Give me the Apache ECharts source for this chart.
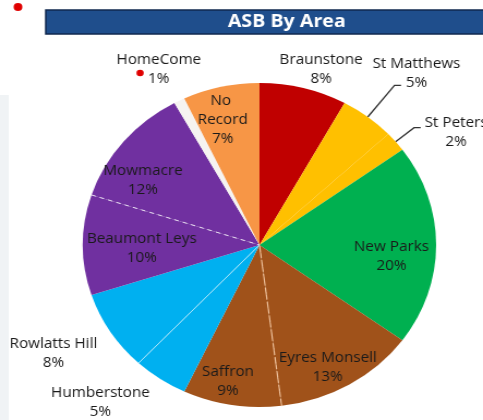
<!DOCTYPE html>
<html><head><meta charset="utf-8">
<script src="https://cdn.jsdelivr.net/npm/echarts@6/dist/echarts.min.js"></script>
<style>
html,body{margin:0;padding:0;background:#fff;overflow:hidden;width:483px;height:420px}
#chart{width:443px;height:420px;transform:scaleX(1.0903);transform-origin:0 0}
</style></head><body><div id="chart"></div>
<script>
// ---- data ----
const titleText = 'ASB By Area';
const categories = ['Braunstone','St Matthews','St Peters','New Parks','Eyres Monsell','Saffron','Humberstone','Rowlatts Hill','Beaumont Leys','Mowmacre','HomeCome','No Record'];
const values = [8,5,2,20,13,9,5,8,10,12,1,7];
const outsideNames = ['Braunstone','St Matthews','St Peters','Humberstone','Rowlatts Hill','HomeCome'];
const leaderNames = ['St Matthews','St Peters'];

// ---- styles ----
const colors = {
  'Braunstone':'#c00000','St Matthews':'#ffc000','St Peters':'#ffc000','New Parks':'#00b050',
  'Eyres Monsell':'#a0521a','Saffron':'#a0521a','Humberstone':'#00b0f0','Rowlatts Hill':'#00b0f0',
  'Beaumont Leys':'#7030a0','Mowmacre':'#7030a0','HomeCome':'#f6f3f1','No Record':'#f79646'
};
// faint separator lines drawn after these slices (between same-coloured neighbours)
const separatorStyle = {
  'Eyres Monsell':{borderColor:'rgba(255,215,180,0.75)',borderWidth:1.2,borderType:[7,7]},
  'Humberstone':{borderColor:'rgba(255,255,255,0.35)',borderWidth:1},
  'Beaumont Leys':{borderColor:'rgba(255,255,255,0.5)',borderWidth:1,borderType:[4,4]}
};
const innerNudge = {'No Record':[-6,-1],'Mowmacre':[-9,16],'Beaumont Leys':[19,4],'New Parks':[-6,12],'Eyres Monsell':[-2,13],'Saffron':[-9,11]};
const outerNudge = {'HomeCome':[-2,2],'Braunstone':[7,17],'St Matthews':[22,-14],'St Peters':[27,14],'Rowlatts Hill':[-21,2],'Humberstone':[-34,-7]};
const leaderLen = {'St Matthews':[40,6],'St Peters':[22,6]};
const wrapWidth = {'No Record':60};

const FONT = 'Open Sans';
const CENTER = [238,245];
const R = 162;
const labelText = {color:'#1a1a1a',fontFamily:FONT,fontSize:14,lineHeight:19,formatter:'{b}\n{c}%'};

const chart = echarts.init(document.getElementById('chart'), null, {renderer:'canvas'});

const baseData = categories.map((name,i)=>({
  name, value: values[i], itemStyle:{color: colors[name]}
}));

const innerData = categories.map((name,i)=>{
  const d = {name, value: values[i]};
  if (leaderNames.includes(name)) {
    d.label = {show:true, position:'outside', formatter:' '};
    d.labelLine = {show:true, length: leaderLen[name][0], length2: leaderLen[name][1], smooth:false,
      lineStyle:{color:'#333', width:1.3}};
  } else if (outsideNames.includes(name)) {
    d.label = {show:false};
  } else {
    d.label = {show:true, position:'inside'};
    if (wrapWidth[name]) { d.label.width = wrapWidth[name]; d.label.overflow = 'break'; }
  }
  return d;
});

const outerData = categories.map((name,i)=>({
  name, value: values[i],
  label: {show: outsideNames.includes(name), position:'inside'}
}));

// separator series: transparent fillers + hair-thin slices at the chosen boundaries
const total = values.reduce((a,b)=>a+b,0);
const sepData = [];
let cum = 0, prev = 0;
categories.forEach((name,i)=>{
  cum += values[i];
  if (separatorStyle[name]) {
    sepData.push({value: cum - prev, itemStyle:{color:'rgba(0,0,0,0)',borderWidth:0}});
    sepData.push({value: 0.0001, itemStyle: Object.assign({color:'rgba(0,0,0,0)'}, separatorStyle[name])});
    prev = cum;
  }
});
sepData.push({value: total - prev, itemStyle:{color:'rgba(0,0,0,0)',borderWidth:0}});

const option = {
  animation:false,
  backgroundColor:'#ffffff',
  title:{
    text:titleText, left:263, top:11, textAlign:'center', padding:0,
    textStyle:{color:'#ffffff',fontFamily:FONT,fontSize:18,fontWeight:'bold',lineHeight:22}
  },
  graphic:[
    {type:'rect', z:-10, shape:{x:0,y:95,width:8,height:325}, style:{fill:'#f0f3f5'}},
    {type:'rect', z:0, shape:{x:42,y:10,width:420,height:24}, style:{fill:'#1f4e8c',stroke:'#10294f',lineWidth:1.5}},
    {type:'circle', z:5, shape:{cx:16.5,cy:7,r:4}, style:{fill:'#e00000'}},
    {type:'circle', z:5, shape:{cx:128.5,cy:73,r:3.3}, style:{fill:'#e00000'}}
  ],
  series:[
    {
      type:'pie', name:'area', center:CENTER, radius:[0,R], startAngle:90, clockwise:true,
      avoidLabelOverlap:false, silent:true,
      label:{show:false}, labelLine:{show:false},
      data: baseData
    },
    {
      type:'pie', name:'separators', center:CENTER, radius:[0,R], startAngle:90, clockwise:true,
      avoidLabelOverlap:false, silent:true, minAngle:0,
      label:{show:false}, labelLine:{show:false},
      data: sepData
    },
    {
      type:'pie', name:'innerLabels', center:CENTER, radius:[86,R], startAngle:90, clockwise:true,
      avoidLabelOverlap:false, silent:true,
      itemStyle:{color:'rgba(0,0,0,0)'},
      label:labelText, labelLine:{show:false},
      labelLayout:function(p){const n=innerNudge[categories[p.dataIndex]];return n?{dx:n[0],dy:n[1]}:{};},
      data: innerData
    },
    {
      type:'pie', name:'outerLabels', center:CENTER, radius:[R,230], startAngle:90, clockwise:true,
      avoidLabelOverlap:false, silent:true,
      itemStyle:{color:'rgba(0,0,0,0)'},
      label:labelText, labelLine:{show:false},
      labelLayout:function(p){const n=outerNudge[categories[p.dataIndex]];return n?{dx:n[0],dy:n[1]}:{};},
      data: outerData
    }
  ]
};
chart.setOption(option);
</script></body></html>
